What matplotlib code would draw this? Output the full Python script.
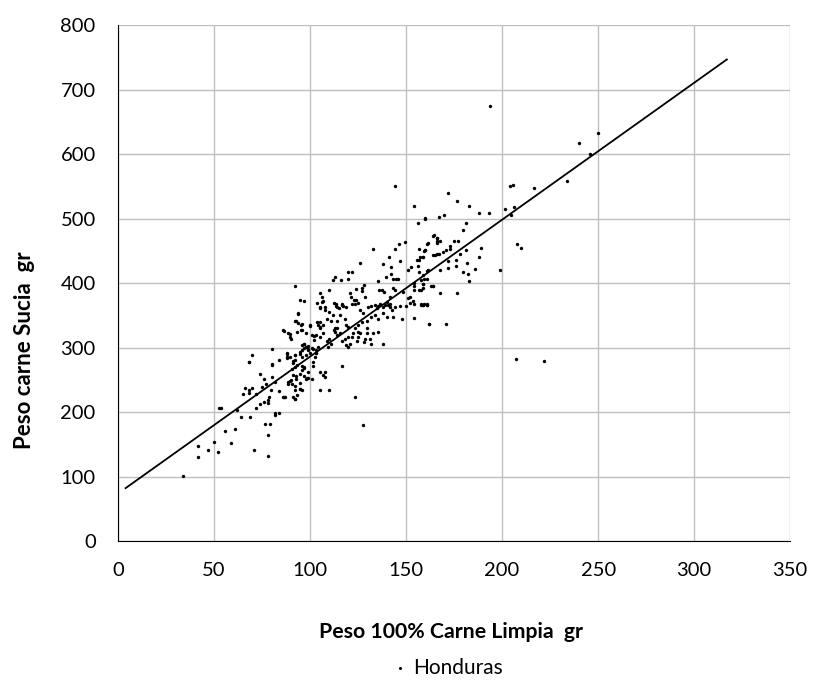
import matplotlib.pyplot as plt

plt.rcParams['font.family'] = ['Lato', 'DejaVu Sans']

# (peso carne limpia, peso carne sucia) in gr, by area
pts_low = [
    (68, 277), (80, 273), (74, 259), (76, 251), (80, 255), (82, 246), (77, 244), (75, 239),
    (66, 237), (68, 234), (68, 230), (70, 237), (65, 228), (72, 228), (79.5, 234), (84, 233),
    (78.6, 224), (78, 219), (78, 214), (86.5, 224), (88.5, 243), (90, 250), (92.5, 251),
    (92.5, 256), (94.8, 245), (94.8, 236), (93.4, 226), (92, 220), (97, 256), (98.5, 253),
    (97, 269), (99, 262), (52.6, 206), (53.5, 207), (61.8, 202.6), (64, 193), (69, 193),
    (72, 206), (74, 212), (76, 215), (82, 198), (84, 198), (82, 195), (76.5, 181), (79, 182),
    (78, 164), (70.8, 141), (78, 132), (61, 174), (55.7, 170), (58.7, 152), (50, 154),
    (52, 138), (46.9, 141), (41.7, 147), (41.7, 131), (33.9, 101.5),
]
pts_left = [
    (92.2, 395), (94, 353), (92, 341), (94, 338), (96, 336), (96, 327), (86.5, 326),
    (89.6, 321), (90, 313), (100, 333), (105, 362), (105, 340), (105, 332), (102, 318),
    (102, 312), (97, 306), (99, 302), (70, 289), (68, 278), (80, 298), (84, 281), (80, 274),
    (88, 290), (88, 285), (92, 288), (92, 281), (95, 290), (96, 296), (97, 299), (99, 296),
    (101, 299), (103, 292), (103, 296), (93, 273), (96, 271), (91, 276),
]
pts_mid_up = [
    (144.3, 551), (154, 519), (156, 494), (160, 501), (164.6, 474), (166, 470), (166, 463),
    (161.6, 462), (149.5, 464), (146.5, 461), (144, 453), (133, 453), (157, 453), (160, 451),
    (159, 441), (157, 436), (155.5, 436), (165, 444), (167, 446), (141, 440), (147, 434),
    (138, 430), (126, 432), (142, 425), (156, 427), (152.6, 425), (161.6, 420), (151, 420),
    (120, 418), (122, 417), (142, 415), (139.6, 410), (145, 406), (146, 406), (143, 406),
    (120, 406), (116, 405), (112, 405), (113, 409), (135.6, 403), (159, 413), (160.8, 406),
    (159, 399), (158.7, 392), (157, 390), (154, 400), (154, 395), (154, 390), (164, 396),
    (105, 385), (106.5, 379), (110, 390), (124, 391), (127, 392), (127, 388), (128, 397),
    (112.6, 369), (113.5, 368), (106, 371), (103.5, 370), (107, 373), (95, 374), (97, 373),
    (121, 384), (121.5, 379), (123, 374), (125, 369), (124, 374), (136, 389), (137.7, 390),
    (138.6, 387), (141.7, 378), (143, 392), (144.3, 389), (148.6, 387), (151, 377),
    (152, 379), (147, 365), (150, 365), (153.5, 373), (139, 366), (140.8, 366), (141.7, 368),
    (135.6, 364), (132, 364), (128.6, 379), (159, 366), (160.8, 366), (113.5, 364),
    (116.5, 366), (115, 362), (117, 364),
]
pts_mid = [
    (127.8, 180), (123.4, 223), (162, 336), (154, 346), (148, 345), (159, 366), (161, 366),
    (158, 366), (152, 370), (154, 367), (138, 305), (135.6, 324), (132, 306), (131, 314),
    (132.7, 322), (128.6, 314), (128, 309), (129.9, 323), (129.9, 330), (126, 322),
    (125, 325), (125, 316), (124.3, 311), (120.8, 306), (120, 301), (119, 304), (121.7, 317),
    (122.6, 322), (120, 317), (118, 314), (116.5, 311), (115.6, 322), (114, 319), (113, 324),
    (113, 330), (114, 330), (112.5, 328), (110, 314), (111, 306), (108.7, 311), (109.5, 301),
    (107, 322), (105, 317), (103, 319), (104, 301), (101.7, 298), (103, 291), (102.6, 285),
    (101.7, 278), (101.7, 271), (99, 298), (98, 301), (97, 306), (96, 304), (100, 291),
    (98, 288), (95.7, 285), (94.8, 293), (92, 288), (91, 280), (89.6, 285), (88, 291),
    (88, 284), (92, 270), (90.5, 267), (97, 270), (96, 265), (95, 259), (98, 252), (101, 252),
    (99, 253), (105, 262), (107, 257), (108, 262), (107.6, 254), (105, 235), (110, 235),
    (116.5, 271), (91, 257), (89.6, 249), (88.7, 247), (90.5, 244), (92, 240), (95, 236),
    (95.7, 235), (92, 234), (87, 223), (86, 224), (92, 221), (91, 223), (86, 327),
    (88.7, 322), (89.6, 317), (93, 324), (92.5, 342), (93.7, 352), (95.5, 335), (95.5, 327),
]
pts_band = [
    (100, 335), (103.5, 340), (104, 335), (105, 363), (108, 363), (108, 358), (110, 355),
    (112, 350), (114, 363), (116.5, 368), (119, 363), (121.7, 368), (123.4, 368), (126, 358),
    (127.8, 353), (130, 363), (134, 366), (134.7, 361), (136.5, 368), (138, 363), (140, 371),
    (141.7, 363), (142.5, 358), (144, 363), (143.4, 348), (140, 348), (138, 353),
    (135.6, 345), (134, 350), (132, 348), (129.5, 342), (127, 340), (125, 335), (123.4, 330),
    (120, 332), (119, 335), (118, 345), (115.6, 350), (114, 342), (111, 342), (108.7, 345),
    (107, 335), (105, 330), (101, 319), (98, 322),
]
pts_high = [
    (193.6, 675), (250, 633), (239.8, 618), (245.7, 600), (233.8, 559), (216.7, 547),
    (204, 551), (205.7, 553), (201.7, 515), (206, 518), (204.8, 505), (172, 540),
    (176.7, 527), (182.8, 519), (188, 509), (193, 509), (160, 500), (167, 503), (170, 505),
    (181, 493), (179.8, 483), (164, 473), (166, 470), (166, 466), (167.6, 465), (174.8, 466),
    (177, 465), (173, 458), (173, 453), (160.7, 460), (160, 451), (159.5, 450), (163.8, 443),
    (166, 446), (169, 449), (171, 451), (181, 452), (189, 455), (178, 445), (176, 436),
    (172, 435), (159, 441), (157.5, 441), (188, 440), (181.9, 431), (172, 424), (176, 426),
    (167.8, 421), (179.7, 418), (182, 415), (186, 422), (183, 404), (198.8, 420), (208, 460),
    (210, 455), (160.7, 419), (157, 417), (159.5, 407), (158, 405), (158.6, 399), (158, 390),
    (163, 395), (164, 395), (167.8, 385), (176.7, 385), (158, 367), (159.5, 367),
    (160.7, 367), (161.7, 336), (170.7, 336), (207, 283), (222, 280),
]

# trend line ends
trend_x = [4, 317]
trend_y = [82, 747]

x_ticks = [0, 50, 100, 150, 200, 250, 300, 350]
y_ticks = [0, 100, 200, 300, 400, 500, 600, 700, 800]

pts = pts_low + pts_left + pts_mid_up + pts_mid + pts_band + pts_high
limpia = [p[0] for p in pts]
sucia = [p[1] for p in pts]

fig = plt.figure(figsize=(8.13, 6.84), dpi=100)
ax = fig.add_axes([0.145, 0.209, 0.827, 0.754])

ax.scatter(limpia, sucia, s=6, color='black', linewidths=0, label='Honduras', zorder=3)
ax.plot(trend_x, trend_y, color='black', lw=1.3, zorder=4)

ax.set_xlim(0, 350)
ax.set_ylim(0, 800)
ax.set_xticks(x_ticks)
ax.set_yticks(y_ticks)
ax.grid(True, color='#bfbfbf', lw=1)
ax.set_axisbelow(True)
for s in ['top', 'right']:
    ax.spines[s].set_visible(False)
ax.spines['left'].set_color('black')
ax.spines['bottom'].set_color('black')
ax.tick_params(length=0, labelsize=14.5)
ax.tick_params(axis='y', pad=16)
ax.tick_params(axis='x', pad=15)

ax.set_xlabel('Peso 100% Carne Limpia  gr', fontsize=15.3, fontweight='bold')
ax.xaxis.set_label_coords(0.496, -0.157)
ax.set_ylabel('Peso carne Sucia  gr', fontsize=16, fontweight='bold')
ax.yaxis.set_label_coords(-0.124, 0.37)

fig.legend(loc='center', bbox_to_anchor=(445 / 813, 0.024), frameon=False,
           fontsize=15, markerscale=0.9, handletextpad=0.0, handlelength=1.2)

fig.savefig('out.png', dpi=100)
